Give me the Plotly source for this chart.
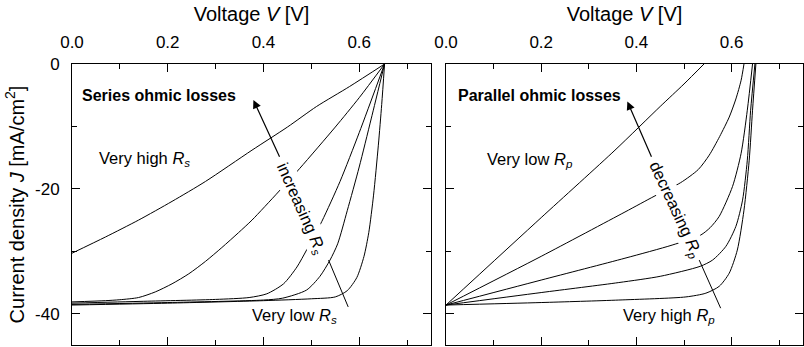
import plotly.graph_objects as go

# ---------------- data ----------------
# Left panel: series ohmic losses (increasing Rs from E to A)
vA = [0, 0.07, 0.139, 0.209, 0.279, 0.376, 0.45, 0.511, 0.58, 0.653]
jA = [-30.3, -27.7, -25.0, -22.0, -18.8, -13.8, -10.1, -6.8, -3.6, 0]

vB = [0, 0.07, 0.1, 0.139, 0.174, 0.209, 0.244, 0.279, 0.313, 0.348, 0.376, 0.431, 0.476, 0.55, 0.6, 0.653]
jB = [-38.1, -37.9, -37.75, -37.4, -36.5, -35.2, -33.6, -31.6, -29.4, -27.0, -25.0, -20.5, -16.7, -10.1, -5.4, 0]

vC = [0, 0.15, 0.3, 0.37, 0.407, 0.442, 0.47, 0.49, 0.522, 0.56, 0.6, 0.653]
jC = [-38.3, -38.0, -37.7, -37.4, -36.8, -35.2, -32.5, -29.8, -25.2, -18.8, -11.0, 0]

vD = [0, 0.2, 0.4, 0.44, 0.49, 0.518, 0.539, 0.555, 0.575, 0.6, 0.625, 0.653]
jD = [-38.5, -38.2, -37.8, -37.5, -36.2, -34.0, -31.4, -28.8, -23.5, -16.5, -8.8, 0]

vE = [0, 0.2, 0.4, 0.5, 0.55, 0.575, 0.595, 0.61, 0.62, 0.63, 0.64, 0.647, 0.653]
jE = [-38.6, -38.3, -37.9, -37.6, -37.3, -36.3, -34.2, -30.8, -27.0, -21.0, -13.0, -6.5, 0]

# Right panel: parallel ohmic losses (decreasing Rp from P5 to P1)
vP1 = [0, 0.2, 0.355, 0.45, 0.5, 0.542]
jP1 = [-38.6, -24.6, -13.8, -6.8, -3.2, 0]

vP2 = [0, 0.2, 0.376, 0.437, 0.493, 0.53, 0.553, 0.575, 0.595, 0.609, 0.62, 0.626]
jP2 = [-38.6, -30.8, -23.7, -21.2, -19.0, -16.9, -14.6, -11.6, -8.5, -5.6, -2.6, 0]

vP3 = [0, 0.2, 0.376, 0.475, 0.535, 0.555, 0.574, 0.602, 0.62, 0.633, 0.644]
jP3 = [-38.6, -34.6, -31.1, -29.0, -27.4, -26.2, -24.4, -19.6, -14.3, -7.4, 0]

vP4 = [0, 0.2, 0.363, 0.45, 0.534, 0.56, 0.588, 0.609, 0.623, 0.633, 0.64, 0.649]
jP4 = [-38.6, -36.6, -35.0, -34.0, -32.4, -31.4, -29.2, -26.0, -21.8, -15.4, -7.4, 0]

vP5 = [0, 0.2, 0.363, 0.504, 0.546, 0.574, 0.595, 0.612, 0.626, 0.637, 0.644, 0.651]
jP5 = [-38.6, -38.2, -37.8, -37.3, -36.7, -35.6, -33.5, -29.8, -23.4, -15.4, -7.4, 0]

left_curves = [(vA, jA), (vB, jB), (vC, jC), (vD, jD), (vE, jE)]
right_curves = [(vP1, jP1), (vP2, jP2), (vP3, jP3), (vP4, jP4), (vP5, jP5)]

x_tick_vals = [0.0, 0.2, 0.4, 0.6]
x_tick_text = ["0.0", "0.2", "0.4", "0.6"]
y_tick_vals = [0, -20, -40]
y_tick_text = ["0", "-20", "-40"]

FONT = "Liberation Sans, Arial, sans-serif"

fig = go.Figure()
for v, j in left_curves:
    fig.add_trace(go.Scatter(x=v, y=j, mode="lines", xaxis="x", yaxis="y",
                             line=dict(color="black", width=1, shape="spline", smoothing=0.7),
                             showlegend=False, hoverinfo="skip"))
for v, j in right_curves:
    fig.add_trace(go.Scatter(x=v, y=j, mode="lines", xaxis="x2", yaxis="y2",
                             line=dict(color="black", width=1, shape="spline", smoothing=0.7),
                             showlegend=False, hoverinfo="skip"))

W, H = 804, 347
ml, mr, mt, mb = 72, 1, 64, 2
pw = W - ml - mr
d1 = [0, (431 - ml) / pw]
d2 = [(446 - ml) / pw, 1]

def xax(domain, anchor):
    return dict(domain=domain, anchor=anchor, range=[0, 0.75], side="top",
                showline=True, linecolor="black", linewidth=1, mirror="ticks",
                ticks="inside", ticklen=8, tickwidth=1, tickcolor="black",
                tickvals=x_tick_vals, ticktext=x_tick_text,
                minor=dict(dtick=0.1, tick0=0, ticks="inside", ticklen=5, tickcolor="black", tickwidth=1),
                showgrid=False, zeroline=False, ticklabelstandoff=8,
                tickfont=dict(family=FONT, size=17, color="black"),
                title=dict(text="Voltage <i>V</i> [V]", standoff=6,
                           font=dict(family=FONT, size=20, color="black")))

def yax(anchor, labels):
    return dict(domain=[0, 1], anchor=anchor, range=[-45, 0],
                showline=True, linecolor="black", linewidth=1, mirror="ticks",
                ticks="inside", ticklen=8, tickwidth=1, tickcolor="black",
                tickvals=y_tick_vals, ticktext=y_tick_text, showticklabels=labels,
                minor=dict(dtick=10, tick0=0, ticks="inside", ticklen=5, tickcolor="black", tickwidth=1),
                showgrid=False, zeroline=False, ticklabelstandoff=8,
                tickfont=dict(family=FONT, size=17, color="black"))

ya = yax("x", True)
ya["title"] = dict(text="Current density <i>J</i> [mA/cm<sup>2</sup>]", standoff=5,
                   font=dict(family=FONT, size=20, color="black"))

fig.update_layout(
    width=W, height=H, margin=dict(l=ml, r=mr, t=mt, b=mb),
    paper_bgcolor="white", plot_bgcolor="white",
    xaxis=xax(d1, "y"), yaxis=ya,
    xaxis2=xax(d2, "y2"), yaxis2=yax("x2", False),
    font=dict(family=FONT, color="black"),
)

ann_font = dict(family=FONT, size=16.5, color="black")
anns = [
    # left panel
    dict(xref="x", yref="y", x=0.0167, y=-5.0, text="<b>Series ohmic losses</b>", showarrow=False,
         xanchor="left", yanchor="middle", font=dict(family=FONT, size=16, color="black")),
    dict(xref="x", yref="y", x=0.052, y=-15.2, text="Very high <i>R</i><sub><i>s</i></sub>", showarrow=False,
         xanchor="left", yanchor="middle", font=ann_font),
    dict(xref="x", yref="y", x=0.372, y=-40.3, text="Very low <i>R</i><sub><i>s</i></sub>", showarrow=False,
         xanchor="left", yanchor="middle", font=ann_font),
    dict(xref="x", yref="y", x=0.379, y=-5.76, ax=0.435, ay=-15.1, axref="x", ayref="y",
         text="", showarrow=True, arrowhead=2, arrowsize=1.4, arrowwidth=1.2, arrowcolor="black"),
    dict(xref="x", yref="y", x=0.479, y=-23.2, text="increasing <i>R</i><sub><i>s</i></sub>",
         showarrow=False, textangle=66, bgcolor="white", font=ann_font, borderpad=1),
    # right panel
    dict(xref="x2", yref="y2", x=0.020, y=-5.0, text="<b>Parallel ohmic losses</b>", showarrow=False,
         xanchor="left", yanchor="middle", font=dict(family=FONT, size=16, color="black")),
    dict(xref="x2", yref="y2", x=0.082, y=-15.4, text="Very low <i>R</i><sub><i>p</i></sub>", showarrow=False,
         xanchor="left", yanchor="middle", font=ann_font),
    dict(xref="x2", yref="y2", x=0.367, y=-40.3, text="Very high <i>R</i><sub><i>p</i></sub>", showarrow=False,
         xanchor="left", yanchor="middle", font=ann_font),
    dict(xref="x2", yref="y2", x=0.381, y=-6.0, ax=0.433, ay=-15.1, axref="x2", ayref="y2",
         text="", showarrow=True, arrowhead=2, arrowsize=1.4, arrowwidth=1.2, arrowcolor="black"),
    dict(xref="x2", yref="y2", x=0.483, y=-23.3, text="decreasing <i>R</i><sub><i>p</i></sub>",
         showarrow=False, textangle=65, bgcolor="white", font=ann_font, borderpad=1),
]
fig.update_layout(annotations=anns)

fig.add_shape(type="line", xref="x", yref="y", x0=0.536, y0=-31.4, x1=0.577, y1=-38.9,
              line=dict(color="black", width=1))
fig.add_shape(type="line", xref="x2", yref="y2", x0=0.532, y0=-31.4, x1=0.577, y1=-39.1,
              line=dict(color="black", width=1))

fig.write_html("out.html")
